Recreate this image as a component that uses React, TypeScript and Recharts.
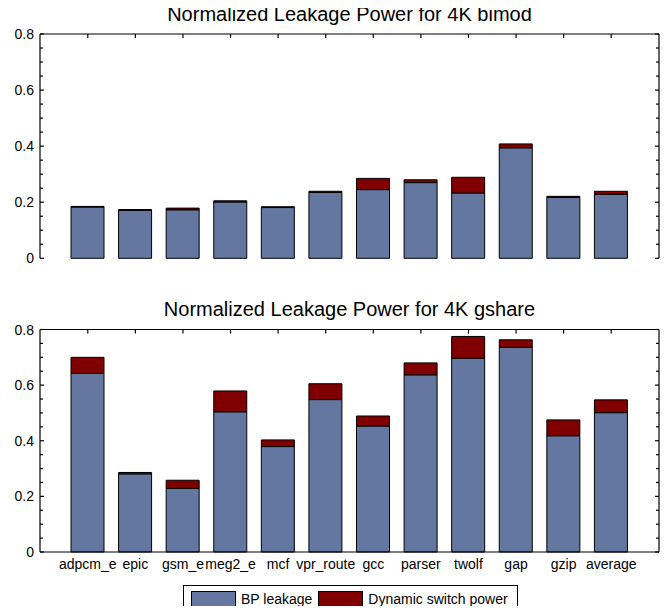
// Normalized leakage power — two stacked bar panels (bimod / gshare)
import { XAxis, YAxis, Bar, BarChart } from 'recharts';
import React from 'react';

const benchmarkNames = ['adpcm_e', 'epic', 'gsm_e', 'meg2_e', 'mcf', 'vpr_route', 'gcc', 'parser', 'twolf', 'gap', 'gzip', 'average'];

const bimodBP = [0.183, 0.171, 0.173, 0.201, 0.181, 0.235, 0.245, 0.270, 0.233, 0.394, 0.217, 0.228];
const bimodSwitch = [0.002, 0.003, 0.006, 0.004, 0.003, 0.004, 0.040, 0.010, 0.056, 0.014, 0.004, 0.011];

const gshareBP = [0.642, 0.281, 0.229, 0.504, 0.379, 0.548, 0.453, 0.637, 0.697, 0.736, 0.418, 0.501];
const gshareSwitch = [0.058, 0.005, 0.029, 0.075, 0.024, 0.057, 0.036, 0.043, 0.078, 0.027, 0.057, 0.046];

const tickValues = [0, 0.05, 0.1, 0.15, 0.2, 0.25, 0.3, 0.35, 0.4, 0.45, 0.5, 0.55, 0.6, 0.65, 0.7, 0.75, 0.8];
const labelledTicks = ['0', '0.2', '0.4', '0.6', '0.8'];

const legendNames = ['BP leakage', 'Dynamic switch power'];
const fills = ['#6477a0', '#800000'];

const FAMILY = '"Liberation Sans", Arial, Helvetica, sans-serif';

const rows = (bp: number[], sw: number[]) => benchmarkNames.map((name, i) => ({ name, bp: bp[i], sw: sw[i] }));
const bimodRows = rows(bimodBP, bimodSwitch);
const gshareRows = rows(gshareBP, gshareSwitch);

const fmt = (v: number) => String(Math.round(v * 100) / 100);

const YLeftTick = (p: any) => {
  const s = fmt(p.payload.value);
  const lab = labelledTicks.includes(s);
  return (
    <g>
      <line x1={p.x} y1={p.y} x2={p.x + (lab ? 4 : 3)} y2={p.y} stroke="#000" strokeWidth={1.2} />
      {lab && (
        <text x={p.x - 6} y={p.y} dy="0.36em" textAnchor="end" fontSize={14} fontFamily={FAMILY} fill="#000">
          {s}
        </text>
      )}
    </g>
  );
};

const YRightTick = (p: any) => {
  const lab = labelledTicks.includes(fmt(p.payload.value));
  return (
    <g>
      <line x1={p.x} y1={p.y} x2={p.x - (lab ? 4 : 3)} y2={p.y} stroke="#000" strokeWidth={1.2} />
    </g>
  );
};

const XTopTick = (p: any) => (
  <g>
    <line x1={p.x} y1={p.y} x2={p.x} y2={p.y + 4} stroke="#000" strokeWidth={1.2} />
  </g>
);

const XNameTick = (p: any) => (
  <g>
    <text x={p.x} y={p.y + 17} textAnchor="middle" fontSize={14} fontFamily={FAMILY} fill="#000">
      {p.payload.value}
    </text>
  </g>
);

const XNoTick = () => <g />;

const TOP_AXIS = 14;
const RIGHT_AXIS = 11;

const drawPanel = (rowsData: any[], h: number, plotTop: number, xAxisH: number, mb: number, names: boolean) => (
  <BarChart
    width={670}
    height={h}
    data={rowsData}
    margin={{ top: plotTop - TOP_AXIS, right: 0, bottom: mb, left: 0 }}
    barSize={33}
  >
    <XAxis
      xAxisId="bottom"
      dataKey="name"
      interval={0}
      padding={{ left: 24, right: 24 }}
      height={xAxisH}
      tickSize={0}
      tickMargin={0}
      tickLine={false}
      axisLine={{ stroke: '#000', strokeWidth: 1.2 }}
      tick={names ? XNameTick : XNoTick}
    />
    <XAxis
      xAxisId="top"
      orientation="top"
      dataKey="name"
      interval={0}
      padding={{ left: 24, right: 24 }}
      height={TOP_AXIS}
      tickSize={0}
      tickMargin={0}
      tickLine={false}
      axisLine={{ stroke: '#000', strokeWidth: 1.2 }}
      tick={XTopTick}
    />
    <YAxis
      yAxisId="left"
      width={40}
      domain={[0, 0.8]}
      ticks={tickValues}
      interval={0}
      tickSize={0}
      tickMargin={0}
      tickLine={false}
      axisLine={{ stroke: '#000', strokeWidth: 1.2 }}
      tick={YLeftTick}
    />
    <YAxis
      yAxisId="right"
      orientation="right"
      width={RIGHT_AXIS}
      domain={[0, 0.8]}
      ticks={tickValues}
      interval={0}
      tickSize={0}
      tickMargin={0}
      tickLine={false}
      axisLine={{ stroke: '#000', strokeWidth: 1.2 }}
      tick={YRightTick}
    />
    <Bar
      xAxisId="bottom"
      yAxisId="left"
      dataKey="bp"
      name={legendNames[0]}
      stackId="stack"
      fill={fills[0]}
      stroke="#000"
      strokeWidth={1}
      isAnimationActive={false}
    />
    <Bar
      xAxisId="bottom"
      yAxisId="left"
      dataKey="sw"
      name={legendNames[1]}
      stackId="stack"
      fill={fills[1]}
      stroke="#000"
      strokeWidth={1}
      isAnimationActive={false}
    />
    <Bar
      xAxisId="top"
      yAxisId="right"
      dataKey="bp"
      stackId="ghost"
      fill="none"
      stroke="none"
      legendType="none"
      isAnimationActive={false}
    />
  </BarChart>
);

const heading = (top: number): React.CSSProperties => ({
  position: 'absolute',
  left: 40,
  top,
  width: 619,
  textAlign: 'center',
  fontFamily: FAMILY,
  fontSize: 20,
  lineHeight: '20px',
  color: '#000',
  whiteSpace: 'nowrap',
});

export default function App() {
  return (
    <div style={{ position: 'relative', margin: -8, width: 670, height: 614, background: '#fff', fontFamily: FAMILY }}>
      <div style={heading(4)}>Normalized Leakage Power for 4K bimod</div>
      <div style={heading(299)}>Normalized Leakage Power for 4K gshare</div>
      <div style={{ position: 'absolute', left: 0, top: 0 }}>{drawPanel(bimodRows, 270, 34, 0, 11.7, false)}</div>
      <div style={{ position: 'absolute', left: 0, top: 270 }}>{drawPanel(gshareRows, 314, 59.5, 30, 2, true)}</div>
      <div
        style={{
          position: 'absolute',
          left: 183,
          top: 585,
          width: 333,
          height: 25,
          border: '1px solid #000',
          display: 'flex',
          alignItems: 'center',
          fontFamily: FAMILY,
          fontSize: 14,
          color: '#000',
        }}
      >
        {legendNames.map((n, i) => (
          <div key={n} style={{ display: 'flex', alignItems: 'center', marginLeft: i === 0 ? 7 : 6 }}>
            <div
              style={{
                width: 45,
                height: 16,
                background: fills[i],
                border: '1px solid #000',
                boxSizing: 'border-box',
                marginRight: 5,
              }}
            />
            <span>{n}</span>
          </div>
        ))}
      </div>
    </div>
  );
}
